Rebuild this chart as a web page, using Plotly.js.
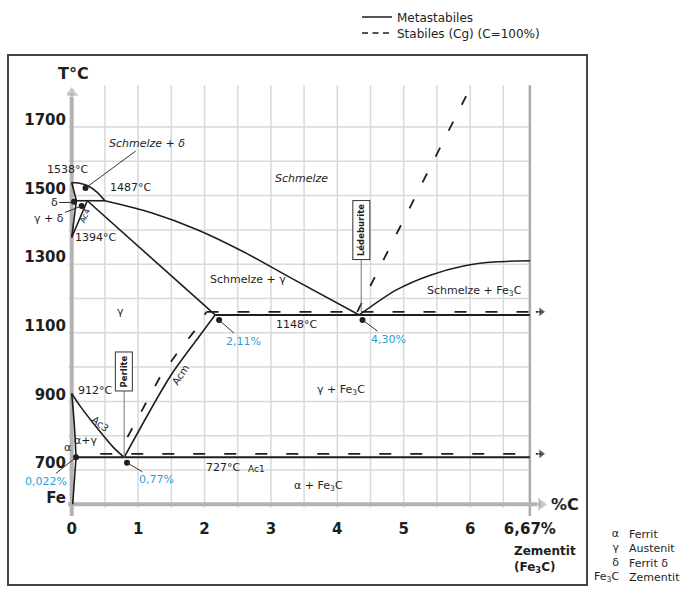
<!DOCTYPE html>
<html><head><meta charset="utf-8">
<script src="https://cdn.plot.ly/plotly-3.0.1.min.js"></script>
<style>body{margin:0;background:#fff}</style>
</head><body>
<div id="chart" style="width:700px;height:600px"></div>
<script>
// ---- axes / ticks ----
const xTickVals = [0, 1, 2, 3, 4, 5, 6, 6.9];
const xTickText = ['0', '1', '2', '3', '4', '5', '6', '6,67%'];
const yTickVals = [600, 700, 800, 900, 1000, 1100, 1200, 1300, 1400, 1500, 1600, 1700];
const yTickText = ['Fe', '700', '', '900', '', '1100', '', '1300', '', '1500', '', '1700'];
const gridC = [0.5, 1, 1.5, 2, 2.5, 3, 3.5, 4, 4.5, 5, 5.5, 6, 6.5];
const gridT = [700, 800, 900, 1000, 1100, 1200, 1300, 1400, 1500, 1600, 1700];

// ---- metastable system (solid lines), %C vs °C ----
const liqDeltaC = [0, 0.12, 0.25, 0.38, 0.5];
const liqDeltaT = [1538, 1536, 1528, 1510, 1485];
const solDeltaC = [0, 0.07];
const solDeltaT = [1538, 1485];
const peritecC = [0.07, 0.5];
const peritecT = [1485, 1485];
const deltaGammaC = [0.07, 0];
const deltaGammaT = [1485, 1378];
const ac4C = [0.235, 0];
const ac4T = [1485, 1378];
const liqGammaC = [0.5, 1.2, 1.9, 2.6, 3.3, 4.33];
const liqGammaT = [1485, 1450, 1400, 1335, 1260, 1152];
const solGammaC = [0.235, 2.16];
const solGammaT = [1485, 1152];
const eutecticC = [2.16, 6.9];
const eutecticT = [1152, 1152];
const liqCemC = [4.33, 4.89, 5.4, 5.9, 6.4, 6.9];
const liqCemT = [1152, 1225, 1268, 1295, 1307, 1310];
const acmC = [0.79, 1.48, 1.88, 2.16];
const acmT = [737, 972, 1079, 1152];
const ac3C = [0, 0.125, 0.426, 0.627, 0.79];
const ac3T = [923, 887, 812, 766, 737];
const gpC = [0, 0.04, 0.065];
const gpT = [923, 830, 737];
const pqC = [0.065, 0.015];
const pqT = [737, 600];
const eutectoidC = [0.065, 6.9];
const eutectoidT = [737, 737];

// ---- stable system (dashed lines) ----
const sEutecticC = [2.03, 6.9];
const sEutecticT = [1161, 1161];
const sEutectoidC = [0.43, 6.9];
const sEutectoidT = [747, 747];
const sAcmC = [0.84, 1.33, 1.6, 1.86, 2.03];
const sAcmT = [796, 971, 1044, 1108, 1161];
const sLiqC = [4.30, 5.94];
const sLiqT = [1161, 1790];
const arrowC = [6.99, 7.07];

// ---- marked points ----
const dotC = [0.208, 0.035, 0.15, 2.22, 4.38, 0.833, 0.065];
const dotT = [1522, 1482, 1470, 1137, 1137, 721, 737];

const INK = '#1e1e1e', AXIS = '#b3b3b3', GRID = '#d9d9d9', BLUE = '#2a9fd8';
const FONT = 'DejaVu Sans';

function line(x, y, extra) {
  return Object.assign({type: 'scatter', mode: 'lines', x: x, y: y,
    line: {color: INK, width: 1.6}, hoverinfo: 'skip', showlegend: false}, extra || {});
}
function curve(x, y) { return line(x, y, {line: {color: INK, width: 1.6, shape: 'spline', smoothing: 0.8}}); }
function dashed(x, y, dash) {
  return line(x, y, {line: {color: INK, width: 1.8, dash: dash || '12px,19px'}});
}

// grid built from tick arrays
const gx = [], gy = [];
gridC.forEach(c => { gx.push(c, c, null); gy.push(590, 1822, null); });
gridT.forEach(t => { gx.push(-0.05, 6.9, null); gy.push(t, t, null); });

const traces = [
  line(gx, gy, {line: {color: GRID, width: 1.5}}),
  line([6.9, 6.9], [562, 1822], {line: {color: '#aaaaaa', width: 2.5}}),
  // axes with arrows
  line([0, 0], [562, 1799], {mode: 'lines+markers', line: {color: AXIS, width: 4},
        marker: {symbol: 'triangle-up', size: [0, 13], color: AXIS}}),
  line([-0.055, 7.068], [600, 600], {mode: 'lines+markers', line: {color: AXIS, width: 4},
        marker: {symbol: 'triangle-right', size: [0, 13], color: AXIS}}),
  // metastable
  curve(liqDeltaC, liqDeltaT), line(solDeltaC, solDeltaT), line(peritecC, peritecT),
  line(deltaGammaC, deltaGammaT), line(ac4C, ac4T),
  curve(liqGammaC, liqGammaT), line(solGammaC, solGammaT),
  line(eutecticC, eutecticT, {line: {color: INK, width: 2}}),
  curve(liqCemC, liqCemT), curve(acmC, acmT), curve(ac3C, ac3T), curve(gpC, gpT),
  line(pqC, pqT), line(eutectoidC, eutectoidT, {line: {color: INK, width: 2}}),
  // stable
  dashed(sEutecticC, sEutecticT), dashed(sEutectoidC, sEutectoidT),
  dashed(sAcmC, sAcmT, '10px,19px'), dashed(sLiqC, sLiqT, '10px,19px'),
  line(arrowC, [1161, 1161], {mode: 'lines+markers', line: {color: INK, width: 1.6},
        marker: {symbol: 'triangle-right', size: [0, 9], color: INK}}),
  line(arrowC, [747, 747], {mode: 'lines+markers', line: {color: INK, width: 1.6},
        marker: {symbol: 'triangle-right', size: [0, 9], color: INK}}),
  // points
  {type: 'scatter', mode: 'markers', x: dotC, y: dotT, marker: {color: INK, size: 6},
   hoverinfo: 'skip', showlegend: false},
  // legend entries
  {type: 'scatter', mode: 'lines', x: [null], y: [null], name: 'Metastabiles',
   line: {color: INK, width: 1.6}, legend: 'legend'},
  {type: 'scatter', mode: 'lines', x: [null], y: [null], name: 'Stabiles (Cg) (C=100%)',
   line: {color: INK, width: 1.6, dash: '6px,4.5px'}, legend: 'legend2'}
];

function txt(x, y, text, o) {
  return Object.assign({x: x, y: y, xref: 'x', yref: 'y', text: text, showarrow: false,
    xanchor: 'center', yanchor: 'middle',
    font: {family: FONT, size: 11, color: INK}}, o || {});
}
function lead(x, y, text, ax, ay, o) {
  return Object.assign({x: x, y: y, xref: 'x', yref: 'y', text: text, showarrow: true,
    ax: ax, ay: ay, arrowhead: 0, arrowwidth: 1, arrowcolor: '#333',
    font: {family: FONT, size: 11, color: INK}}, o || {});
}
const blueFont = {family: FONT, size: 11, color: BLUE};
const ital = {family: FONT, size: 11, color: INK, style: 'italic'};
const boxed = {textangle: -90, arrowcolor: '#777', bordercolor: '#333', borderwidth: 1,
  borderpad: 3, bgcolor: '#fff', font: {family: FONT, size: 8.5, color: INK}};

const annotations = [
  lead(0.208, 1522, 'Schmelze + δ', 61, -45, {font: ital}),
  txt(0.276, 1575, '1538°C', {xanchor: 'right'}),
  txt(0.878, 1525, '1487°C'),
  lead(0.035, 1480, 'δ', -20, 0),
  lead(0.15, 1470, 'γ + δ', -33, 13),
  txt(0.2, 1443, 'Ac4', {textangle: -67, font: {family: FONT, size: 8, color: INK}}),
  txt(0.352, 1379, '1394°C'),
  txt(3.468, 1551, 'Schmelze', {font: ital}),
  txt(2.655, 1254, 'Schmelze + γ'),
  lead(4.36, 1161, '<b>Lédeburite</b>', 0, -82, boxed),
  txt(6.059, 1222, 'Schmelze + Fe<sub>3</sub>C'),
  txt(0.742, 1161, 'γ'),
  txt(3.378, 1123, '1148°C'),
  lead(2.22, 1137, '2,11%', 24, 21, {font: blueFont}),
  lead(4.38, 1137, '4,30%', 26, 19, {font: blueFont}),
  lead(0.79, 737, '<b>Perlite</b>', 0, -86, boxed),
  txt(1.646, 977, 'Acm', {textangle: -57, font: {family: FONT, size: 10, color: INK}}),
  txt(0.63, 933, '912°C', {xanchor: 'right'}),
  txt(4.056, 933, 'γ + Fe<sub>3</sub>C'),
  txt(0.44, 834, 'Ac3', {textangle: 38, font: {family: FONT, size: 10, color: INK}}),
  txt(0.215, 787, 'α+γ'),
  txt(-0.056, 767, 'α'),
  lead(0.065, 737, '0,022%', -30, 24, {font: blueFont}),
  lead(0.833, 721, '0,77%', 29, 17, {font: blueFont}),
  txt(2.279, 706, '727°C'),
  txt(2.79, 703, 'Ac1', {font: {family: FONT, size: 9, color: INK}}),
  txt(3.71, 653, 'α + Fe<sub>3</sub>C'),
  // axis titles
  {x: 0.02, y: 1.0138, xref: 'x', yref: 'paper', xanchor: 'center', yanchor: 'middle',
   text: '<b>T°C</b>', showarrow: false, font: {family: FONT, size: 16, color: INK}},
  {x: 1.0101, y: 600, xref: 'paper', yref: 'y', xanchor: 'center', yanchor: 'middle',
   text: '<b>%C</b>', showarrow: false, font: {family: FONT, size: 16, color: INK}},
  {x: 6.634, y: -0.0998, xref: 'x', yref: 'paper', xanchor: 'left', yanchor: 'middle', align: 'left',
   text: '<b>Zementit<br>(Fe<sub>3</sub>C)</b>', showarrow: false,
   font: {family: FONT, size: 12, color: INK}},
  // phase key
  {x: 1.1258, y: -0.0917, xref: 'paper', yref: 'paper', xanchor: 'right', yanchor: 'middle',
   align: 'right', text: 'α<br>γ<br>δ<br>Fe<sub>3</sub>C', showarrow: false,
   font: {family: FONT, size: 11, color: INK}},
  {x: 1.136, y: -0.0917, xref: 'paper', yref: 'paper', xanchor: 'left', yanchor: 'middle',
   align: 'left', text: 'Ferrit<br>Austenit<br>Ferrit δ<br>Zementit', showarrow: false,
   font: {family: FONT, size: 11, color: INK}}
];

const layout = {
  width: 700, height: 600,
  margin: {l: 67, r: 140, t: 80, b: 84, autoexpand: false},
  paper_bgcolor: '#fff', plot_bgcolor: '#fff',
  font: {family: FONT, size: 11, color: INK},
  xaxis: {range: [-0.0708, 7.354], showgrid: false, zeroline: false, showline: false,
    tickvals: xTickVals, ticktext: xTickText, ticks: '', ticklabelstandoff: 2, automargin: false,
    tickfont: {family: FONT, size: 15, color: INK, weight: 'bold'}},
  yaxis: {range: [565.9, 1837], showgrid: false, zeroline: false, showline: false,
    tickvals: yTickVals, ticktext: yTickText, ticks: '', ticklabelshift: -7, ticklabelstandoff: 0,
    automargin: false, tickfont: {family: FONT, size: 15, color: INK, weight: 'bold'}},
  showlegend: true,
  legend: {xref: 'container', yref: 'container', x: 0.51, y: 0.9717, xanchor: 'left',
    yanchor: 'middle', bgcolor: 'rgba(0,0,0,0)', font: {family: FONT, size: 12, color: INK}},
  legend2: {xref: 'container', yref: 'container', x: 0.51, y: 0.945, xanchor: 'left',
    yanchor: 'middle', bgcolor: 'rgba(0,0,0,0)', font: {family: FONT, size: 12, color: INK}},
  shapes: [{type: 'rect', xref: 'paper', yref: 'paper', x0: -0.1197, x1: 1.0548,
    y0: -0.1583, y1: 1.0573, line: {color: '#444', width: 2}}],
  annotations: annotations
};

Plotly.newPlot('chart', traces, layout, {staticPlot: true, displayModeBar: false});
</script>
</body></html>
